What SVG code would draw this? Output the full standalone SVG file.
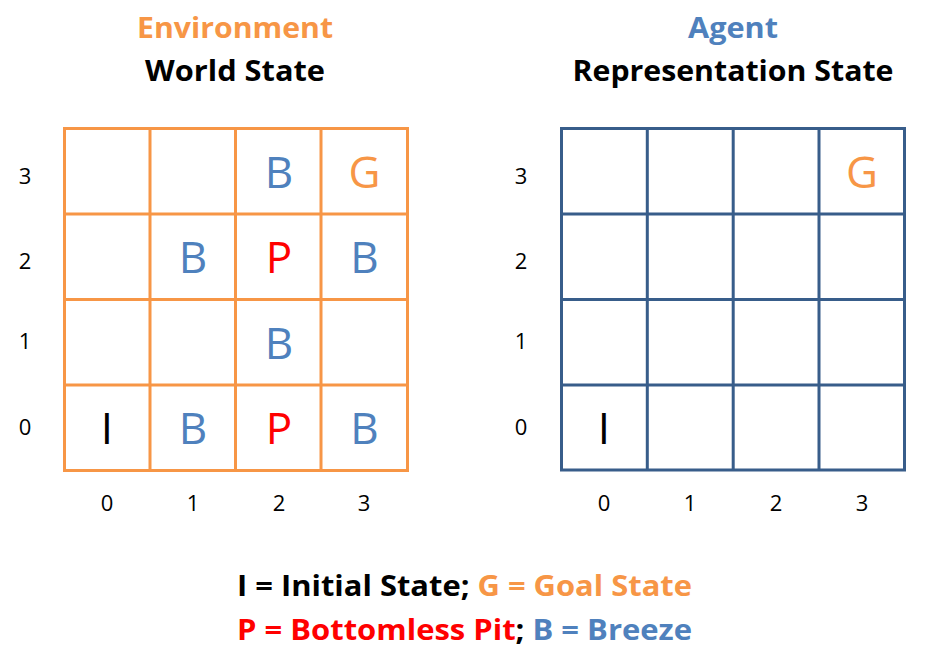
<svg xmlns="http://www.w3.org/2000/svg" width="927" height="657" viewBox="0 0 927 657">
<style>
.t{font-family:"Open Sans","Noto Sans",sans-serif;font-weight:bold;text-anchor:middle}
.ax{font-family:"Open Sans","Noto Sans",sans-serif;font-size:22px;text-anchor:middle;fill:#000}
.c{font-family:"Open Sans","Noto Sans",sans-serif;font-size:44px;text-anchor:middle}
.og{stroke:#F79646;stroke-width:3;fill:none}
.bg{stroke:#385D8A;stroke-width:3;fill:none}
.or{fill:#F79646}.bl{fill:#4F81BD}.rd{fill:#FF0000}.bk{fill:#000}
</style>
<rect width="927" height="657" fill="#fff"/>
<g id="env-title">
<text class="t or" x="235" y="38" font-size="29" textLength="196" lengthAdjust="spacingAndGlyphs">Environment</text>
<text class="t bk" x="235" y="81" font-size="29" textLength="180" lengthAdjust="spacingAndGlyphs">World State</text>
</g>
<g id="agent-title">
<text class="t bl" x="733" y="38" font-size="29" textLength="90" lengthAdjust="spacingAndGlyphs">Agent</text>
<text class="t bk" x="733" y="81" font-size="29" textLength="321" lengthAdjust="spacingAndGlyphs">Representation State</text>
</g>
<g id="world-grid">
<path class="og" d="M64.5,128.5H407.5V470.5H64.5Z M64.5,214H407.5 M64.5,299.5H407.5 M64.5,385H407.5 M150,128.5V470.5 M235.5,128.5V470.5 M321,128.5V470.5"/>
<text class="c bl" x="279" y="188">B</text>
<text class="c or" x="364.5" y="188">G</text>
<text class="c bl" x="193" y="273">B</text>
<text class="c rd" x="279" y="273">P</text>
<text class="c bl" x="364.5" y="273">B</text>
<text class="c bl" x="279" y="359">B</text>
<text class="c bk" x="107" y="444">I</text>
<text class="c bl" x="193" y="444">B</text>
<text class="c rd" x="279" y="444">P</text>
<text class="c bl" x="364.5" y="444">B</text>
</g>
<g id="world-axes">
<text class="ax" x="25" y="184">3</text>
<text class="ax" x="25" y="269">2</text>
<text class="ax" x="25" y="349">1</text>
<text class="ax" x="25" y="435">0</text>
<text class="ax" x="107" y="511">0</text>
<text class="ax" x="193" y="511">1</text>
<text class="ax" x="279" y="511">2</text>
<text class="ax" x="364" y="511">3</text>
</g>
<g id="agent-grid">
<path class="bg" d="M561.5,128.5H904.5V470H561.5Z M561.5,214H904.5 M561.5,299.5H904.5 M561.5,385H904.5 M647.3,128.5V470 M733.2,128.5V470 M819,128.5V470"/>
<text class="c or" x="862" y="188">G</text>
<text class="c bk" x="604" y="444">I</text>
</g>
<g id="agent-axes">
<text class="ax" x="521" y="184">3</text>
<text class="ax" x="521" y="269">2</text>
<text class="ax" x="521" y="349">1</text>
<text class="ax" x="521" y="435">0</text>
<text class="ax" x="604" y="511">0</text>
<text class="ax" x="690" y="511">1</text>
<text class="ax" x="776" y="511">2</text>
<text class="ax" x="862" y="511">3</text>
</g>
<g id="legend">
<text class="t" x="464.5" y="596" font-size="29" textLength="455" lengthAdjust="spacingAndGlyphs"><tspan class="bk">I = Initial State; </tspan><tspan class="or">G = Goal State</tspan></text>
<text class="t" x="464.5" y="640" font-size="29" textLength="455" lengthAdjust="spacingAndGlyphs"><tspan class="rd">P = Bottomless Pit</tspan><tspan class="bk">; </tspan><tspan class="bl">B = Breeze</tspan></text>
</g>
</svg>
